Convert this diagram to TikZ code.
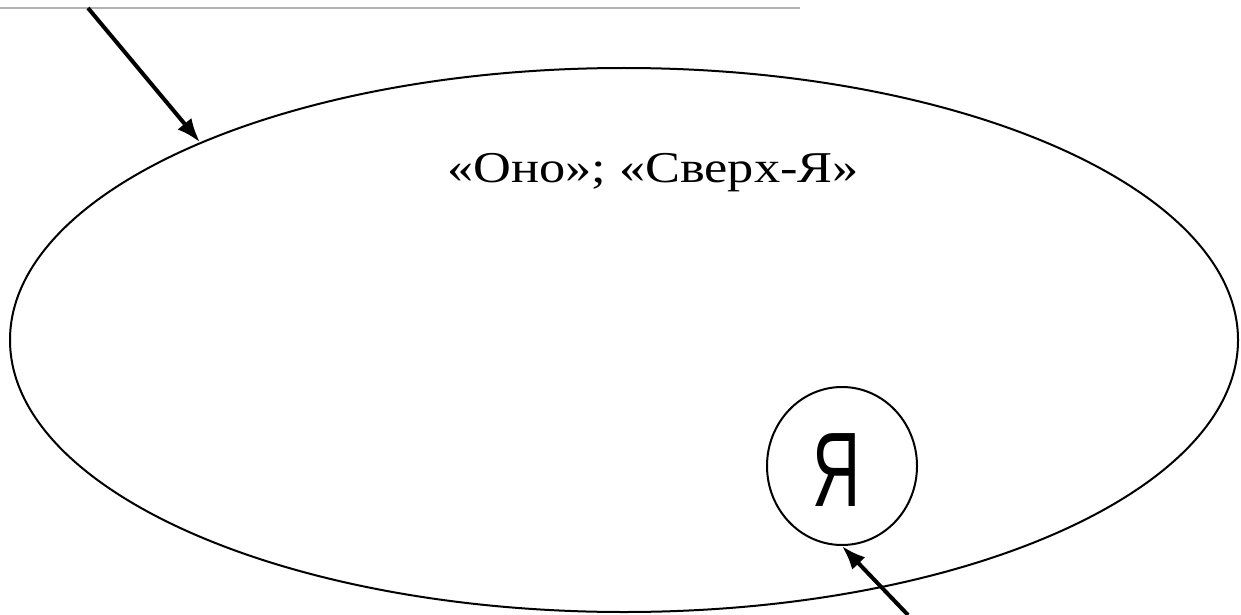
\documentclass[tikz,border=0pt]{standalone}
\usepackage{fontspec}
\setmainfont{Liberation Serif}
\newfontfamily\sansfnt{Liberation Sans}
\usetikzlibrary{arrows.meta,shapes.geometric}
\begin{document}
\begin{tikzpicture}[x=0.5pt,y=-0.5pt,
  outline/.style={draw=black,line width=1pt,ellipse,inner sep=0pt},
  pointer/.style={draw=black,line width=2pt,-{Latex[length=12pt,width=9pt]}},
  frameline/.style={draw=black!30,line width=0.6pt}]
\useasboundingbox (0,0) rectangle (1241,615);
\draw[frameline] (0,8) -- (800,8);
\node[outline,minimum width=614pt,minimum height=272pt] (id) at (624,340) {};
\node[font=\fontsize{22}{26}\selectfont,anchor=base,xscale=1.19] (lbl) at (653,182) {«Оно»; «Сверх-Я»};
\node[outline,minimum width=75pt,minimum height=79pt] (ego) at (842,466) {};
\node[font=\sansfnt\fontsize{53}{60}\selectfont,xscale=0.63] (ya) at (837,470) {Я};
\coordinate (s1) at (88,8);
\coordinate (s2) at (908,615);
\draw[pointer] (s1) -- (id.155.9);
\draw[pointer] (s2) -- (ego.south);
\end{tikzpicture}
\end{document}
